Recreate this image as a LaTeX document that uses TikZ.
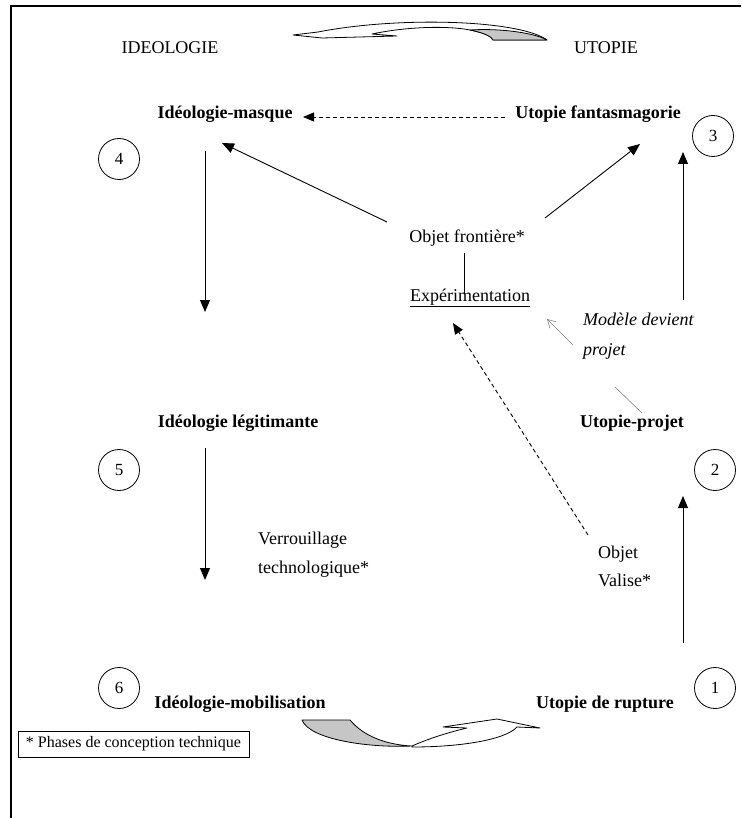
\documentclass[tikz,border=0pt]{standalone}
\usepackage{fontspec}
\setmainfont{Liberation Serif}
\usetikzlibrary{arrows.meta}
\begin{document}
\begin{tikzpicture}[x=1pt,y=-1pt,
  txt/.style={font=\fontsize{18}{21}\selectfont, inner sep=0pt},
  bold/.style={font=\fontsize{18}{21}\selectfont\bfseries, inner sep=0pt},
  num/.style={draw, circle, minimum size=41pt, inner sep=0pt, line width=0.8pt, font=\fontsize{17}{20}\selectfont},
  arr/.style={line width=0.9pt, -{Triangle[length=12pt,width=10pt]}},
  darr/.style={line width=0.9pt, dashed, dash pattern=on 4pt off 3pt, -{Triangle[length=11pt,width=9pt]}},
  gline/.style={line width=0.6pt, gray},
  garr/.style={gline, -{Straight Barb[length=8pt,width=9pt]}},
  curv/.style={line width=0.8pt, line join=round}
]
\useasboundingbox (0,0) rectangle (741,818);
\draw[line width=1.3pt] (11,818) -- (11,6) -- (741,6);

% headers
\node[txt] (ideo) at (170,48) {IDEOLOGIE};
\node[txt] (uto) at (606,48) {UTOPIE};

% main nodes
\node[bold] (masque) at (225,114) {Idéologie-masque};
\node[bold] (fanta) at (598,114) {Utopie fantasmagorie};
\node[bold] (legit) at (238,423) {Idéologie légitimante};
\node[bold] (projet) at (632,423) {Utopie-projet};
\node[bold] (mobil) at (240,704) {Idéologie-mobilisation};
\node[bold] (rupt) at (605,704) {Utopie de rupture};
\node[txt] (front) at (467,238) {Objet frontière*};
\node[txt] (exp) at (470,298) {\underline{Expérimentation}};
\node[txt, align=left, anchor=west, font=\fontsize{18}{28}\selectfont] (valise) at (598,566) {Objet\\Valise*};
\node[txt, align=left, anchor=west, font=\fontsize{18}{29}\selectfont] (verr) at (258,555) {Verrouillage\\technologique*};
\node[txt, align=left, anchor=north west, font=\fontsize{18}{30}\selectfont\itshape] (model) at (583,313) {Modèle devient\\projet};

% circles
\node[num] (c4) at (119,159) {4};
\node[num] (c3) at (713,136) {3};
\node[num] (c5) at (119,470) {5};
\node[num] (c2) at (715,470) {2};
\node[num] (c6) at (119,688) {6};
\node[num] (c1) at (715,688) {1};

% connector end points
\coordinate (dA) at (505,117);
\coordinate (dB) at (303,117);
\coordinate (fL) at (387,222);
\coordinate (mT) at (222,143);
\coordinate (fR) at (545,218);
\coordinate (faT) at (640,144);
\coordinate (m1) at (205,151);
\coordinate (m2) at (205,312);
\coordinate (l1) at (205,448);
\coordinate (l2) at (205,580);
\coordinate (p1) at (683,300);
\coordinate (p2) at (683,152);
\coordinate (r1) at (683,643);
\coordinate (r2) at (683,496);
\coordinate (e1) at (464,253);
\coordinate (e2) at (464,293);
\coordinate (v1) at (588,535);
\coordinate (v2) at (453,323);
\coordinate (g1) at (642,413);
\coordinate (g1b) at (615,387);
\coordinate (g2a) at (573,345);
\coordinate (g2) at (547,319);

\draw[darr] (dA) -- (dB);
\draw[arr] (fL) -- (mT);
\draw[arr] (fR) -- (faT);
\draw[arr] (m1) -- (m2);
\draw[arr] (l1) -- (l2);
\draw[arr] (p1) -- (p2);
\draw[arr] (r1) -- (r2);
\draw[line width=0.9pt] (e1) -- (e2);
\draw[darr] (v1) -- (v2);
\draw[gline] (g1) -- (g1b);
\draw[garr] (g2a) -- (g2);

% legend
\node[draw, line width=0.8pt, font=\fontsize{16}{19}\selectfont, minimum width=231pt, minimum height=26pt, inner sep=0pt] (leg) at (133.5,744) {* Phases de conception technique};

% top curved arrow
\filldraw[curv, fill=white] (547,40) .. controls (520,20) and (400,16) .. (318,32) -- (293,35) -- (322,38) -- (397,36) -- (372,34)
   .. controls (410,26) and (450,26) .. (470,30) .. controls (485,33) and (492,37) .. (493,40) -- cycle;
\filldraw[curv, fill=gray!45] (470,30) .. controls (485,33) and (492,37) .. (493,40) -- (547,40) .. controls (535,33) and (500,28) .. (470,30) -- cycle;

% bottom curved arrow
\filldraw[curv, fill=white] (412,746) .. controls (430,738) and (450,732) .. (467,728) -- (443,727) -- (497,719) -- (540,728) -- (517,727)
   .. controls (505,740) and (460,747) .. (412,747) -- cycle;
\filldraw[curv, fill=gray!45] (302,720) -- (350,720) .. controls (365,738) and (390,745) .. (412,746)
   .. controls (370,748) and (310,740) .. (302,720) -- cycle;
\end{tikzpicture}
\end{document}
